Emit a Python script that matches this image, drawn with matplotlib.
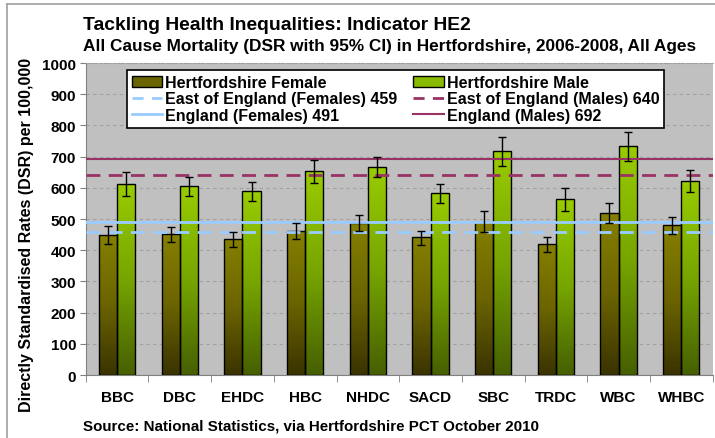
import numpy as np
import matplotlib
matplotlib.use("Agg")
import matplotlib.pyplot as plt
from matplotlib.colors import LinearSegmentedColormap
from matplotlib.lines import Line2D
from matplotlib.patches import Patch

categories = ["BBC", "DBC", "EHDC", "HBC", "NHDC", "SACD", "SBC", "TRDC", "WBC", "WHBC"]
female = [450, 452, 436, 462, 488, 441, 492, 420, 520, 481]
female_lo = [419, 427, 411, 436, 462, 417, 460, 393, 486, 451]
female_hi = [477, 473, 457, 487, 514, 462, 527, 444, 553, 506]
male = [612, 605, 589, 653, 668, 582, 719, 563, 733, 621]
male_lo = [575, 575, 557, 614, 634, 550, 671, 527, 687, 586]
male_hi = [650, 634, 620, 688, 700, 611, 762, 598, 780, 656]
eoe_f, eng_f, eoe_m, eng_m = 459, 491, 640, 692
yticks = list(range(0, 1001, 100))

plt.rcParams['font.family'] = ['Liberation Sans', 'DejaVu Sans']

fig = plt.figure(figsize=(7.15, 4.39), dpi=100)
W, H = 715, 439

# outer chart frame (left and top edges visible)
fig.add_artist(Line2D([7 / W, 7 / W], [0, 1 - 5 / H], transform=fig.transFigure,
                      color='#a0a0a0', lw=1.2))
fig.add_artist(Line2D([7 / W, 1], [1 - 5 / H, 1 - 5 / H], transform=fig.transFigure,
                      color='#a0a0a0', lw=1.2))

ax = fig.add_axes([0.12, 0.1435, 0.8766, 0.7105])
ax.set_facecolor('#c0c0c0')

x = np.arange(len(categories))
w = 0.29
cm_f = LinearSegmentedColormap.from_list('f', ['#3a3300', '#6b6400', '#858000'])
cm_m = LinearSegmentedColormap.from_list('m', ['#465f00', '#76a500', '#99cc00'])
grad = np.linspace(0, 1, 256).reshape(-1, 1)

def gbar(xc, h, cmap):
    bars = ax.bar(xc, h, w, color='none', edgecolor='black', linewidth=1.0, zorder=4)
    for b in bars:
        x0 = b.get_x()
        im = ax.imshow(grad, extent=[x0, x0 + b.get_width(), 0, b.get_height()],
                       origin='lower', aspect='auto', cmap=cmap, zorder=3)
        im.set_clip_path(b)
    return bars

gbar(x - w / 2, female, cm_f)
gbar(x + w / 2, male, cm_m)

ax.errorbar(x - w / 2, female,
            yerr=[np.array(female) - np.array(female_lo), np.array(female_hi) - np.array(female)],
            fmt='none', ecolor='black', elinewidth=1, capsize=3, zorder=6)
ax.errorbar(x + w / 2, male,
            yerr=[np.array(male) - np.array(male_lo), np.array(male_hi) - np.array(male)],
            fmt='none', ecolor='black', elinewidth=1, capsize=3, zorder=6)

ax.axhline(eoe_f, color='#99ccff', ls=(0, (5, 3)), lw=2, zorder=5)
ax.axhline(eng_f, color='#99ccff', ls='-', lw=2, zorder=5)
ax.axhline(eoe_m, color='#993366', ls=(0, (5, 3)), lw=2, zorder=5)
ax.axhline(eng_m, color='#993366', ls='-', lw=1.5, zorder=5)

ax.set_xlim(-0.5, len(categories) - 0.5)
ax.set_ylim(0, 1000)
ax.set_yticks(yticks)
ax.set_yticklabels([str(v) for v in yticks], fontsize=11, fontweight='bold')
ax.yaxis.grid(True, color='#a0a0a0', ls=(0, (3, 3)), lw=0.8)
ax.set_axisbelow(True)
ax.set_xticks(x)
ax.set_xticklabels(categories, fontsize=11, fontweight='bold')
ax.tick_params(axis='x', length=0, pad=11)
ax.set_xticks(np.arange(len(categories) + 1) - 0.5, minor=True)
ax.tick_params(axis='x', which='minor', length=5, color='#808080')
ax.tick_params(axis='y', length=4, color='#808080', pad=3)
ax.spines['right'].set_visible(False)
ax.spines['top'].set_color('#a0a0a0')
ax.spines['top'].set_linestyle((0, (2, 2)))
ax.spines['left'].set_color('#808080')
ax.spines['bottom'].set_color('#808080')

fig.text(27 / W, 1 - 235 / H, 'Directly Standardised Rates (DSR) per 100,000',
         fontsize=11.5, fontweight='bold', rotation=90, ha='center', va='center')

handles = [
    Patch(facecolor='#6b6500', edgecolor='black', label='Hertfordshire Female'),
    Line2D([], [], color='#99ccff', ls=(0, (4, 3)), lw=2, label='East of England (Females) 459'),
    Line2D([], [], color='#99ccff', ls='-', lw=2, label='England (Females) 491'),
    Patch(facecolor='#88bb00', edgecolor='black', label='Hertfordshire Male'),
    Line2D([], [], color='#993366', ls=(0, (4, 3)), lw=2, label='East of England (Males) 640'),
    Line2D([], [], color='#993366', ls='-', lw=1.5, label='England (Males) 692'),
]
leg = ax.legend(handles=handles, ncol=2, loc='upper left',
                bbox_to_anchor=((126.7 - 85.6) / 627, 1 - (71 - 64) / 312),
                frameon=True, fancybox=False, edgecolor='black', framealpha=1,
                prop={'weight': 'bold', 'size': 11.5}, handlelength=1.9,
                handletextpad=0.2, columnspacing=1.0, labelspacing=0.1,
                borderpad=0.3, borderaxespad=0)
leg.get_frame().set_linewidth(1.2)
leg.set_zorder(10)

fig.text(83 / W, 1 - 25 / H, 'Tackling Health Inequalities: Indicator HE2', fontsize=13.9,
         fontweight='bold', va='center')
fig.text(83 / W, 1 - 47 / H, 'All Cause Mortality (DSR with 95% CI) in Hertfordshire, 2006-2008, All Ages',
         fontsize=12.4, fontweight='bold', va='center')
fig.text(83 / W, 1 - 427 / H, 'Source: National Statistics, via Hertfordshire PCT October 2010',
         fontsize=10.9, fontweight='bold', va='center')

fig.savefig('out.png', dpi=100)
